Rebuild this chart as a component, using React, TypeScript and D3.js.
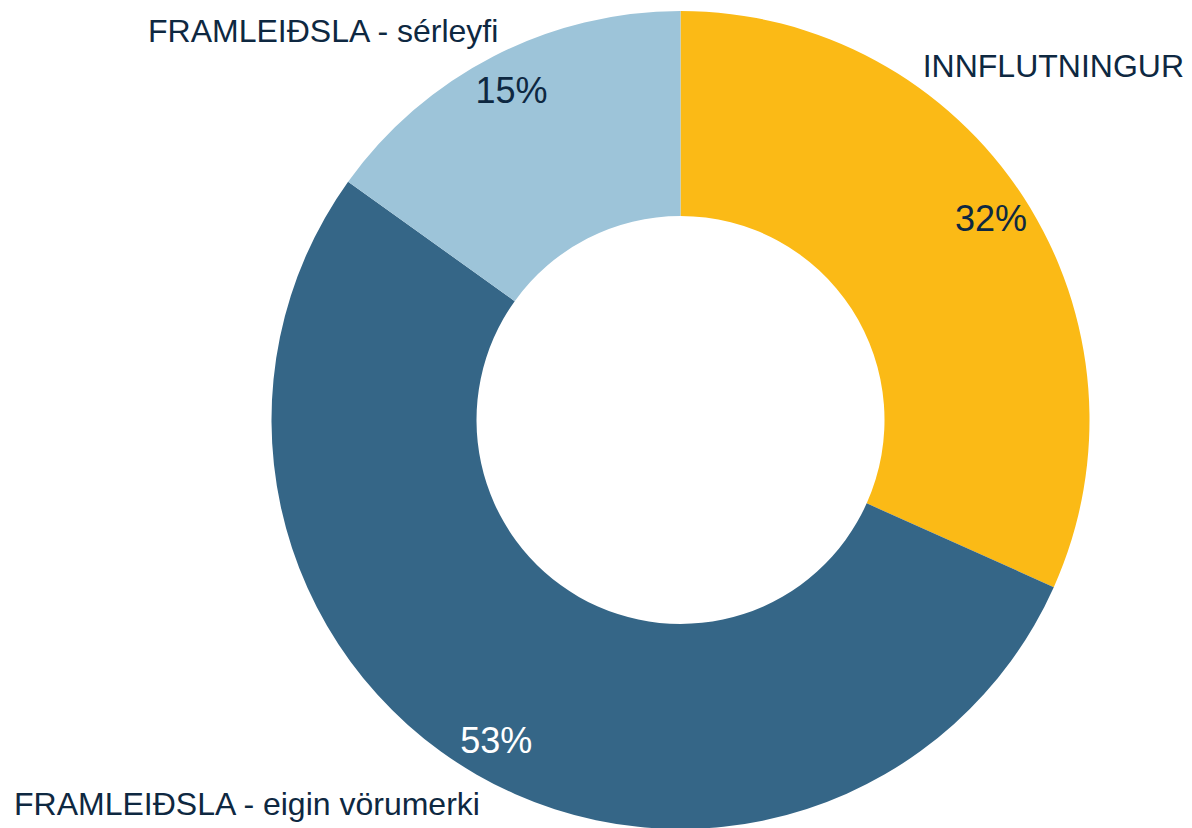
import * as d3 from 'd3';

const WIDTH = 1192;
const HEIGHT = 828;

const categories = ['INNFLUTNINGUR', 'FRAMLEIÐSLA - eigin vörumerki', 'FRAMLEIÐSLA - sérleyfi'];
// shares; the labels show them rounded
const shares = [31.7, 53.2, 15.1];
const colors = ['#FBBA16', '#356687', '#9DC4D9'];
const valueColors = ['#0E2841', '#FFFFFF', '#0E2841'];

// where the category names sit (hand-placed, like in the original)
const NAME_POS = [
  { x: 1184, y: 77, anchor: 'end' },
  { x: 14, y: 815, anchor: 'start' },
  { x: 148, y: 42, anchor: 'start' },
];

const CX = 680.5;
const CY = 420;
const OUTER = 409;
const INNER = 204;
const LABEL_R = 370;

type Slice = { name: string; value: number; i: number };

export default function App() {
  const data: Slice[] = categories.map((name, i) => ({ name, value: shares[i], i }));

  const pie = d3
    .pie<Slice>()
    .value((d) => d.value)
    .sort(null);
  const arcs = pie(data);

  const arcPath = d3.arc<d3.PieArcDatum<Slice>>().innerRadius(INNER).outerRadius(OUTER);
  const labelArc = d3.arc<d3.PieArcDatum<Slice>>().innerRadius(LABEL_R).outerRadius(LABEL_R);

  return (
    <div style={{ position: 'absolute', left: 0, top: 0 }}>
      <svg width={WIDTH} height={HEIGHT} style={{ display: 'block' }} fontFamily="'Liberation Sans', Arial, sans-serif">
        <g transform={`translate(${CX},${CY})`}>
          {arcs.map((a) => (
            <path key={a.data.name} d={arcPath(a) || ''} fill={colors[a.data.i]} />
          ))}
          {arcs.map((a) => {
            const [x, y] = labelArc.centroid(a);
            return (
              <text
                key={'v' + a.data.name}
                x={x}
                y={y}
                textAnchor="middle"
                dominantBaseline="central"
                fontSize={36}
                fill={valueColors[a.data.i]}
              >
                {Math.round(a.data.value)}%
              </text>
            );
          })}
        </g>
        {data.map((d) => (
          <text
            key={'n' + d.name}
            x={NAME_POS[d.i].x}
            y={NAME_POS[d.i].y}
            textAnchor={NAME_POS[d.i].anchor}
            fontSize={32}
            fill="#0E2841"
          >
            {d.name}
          </text>
        ))}
      </svg>
    </div>
  );
}
